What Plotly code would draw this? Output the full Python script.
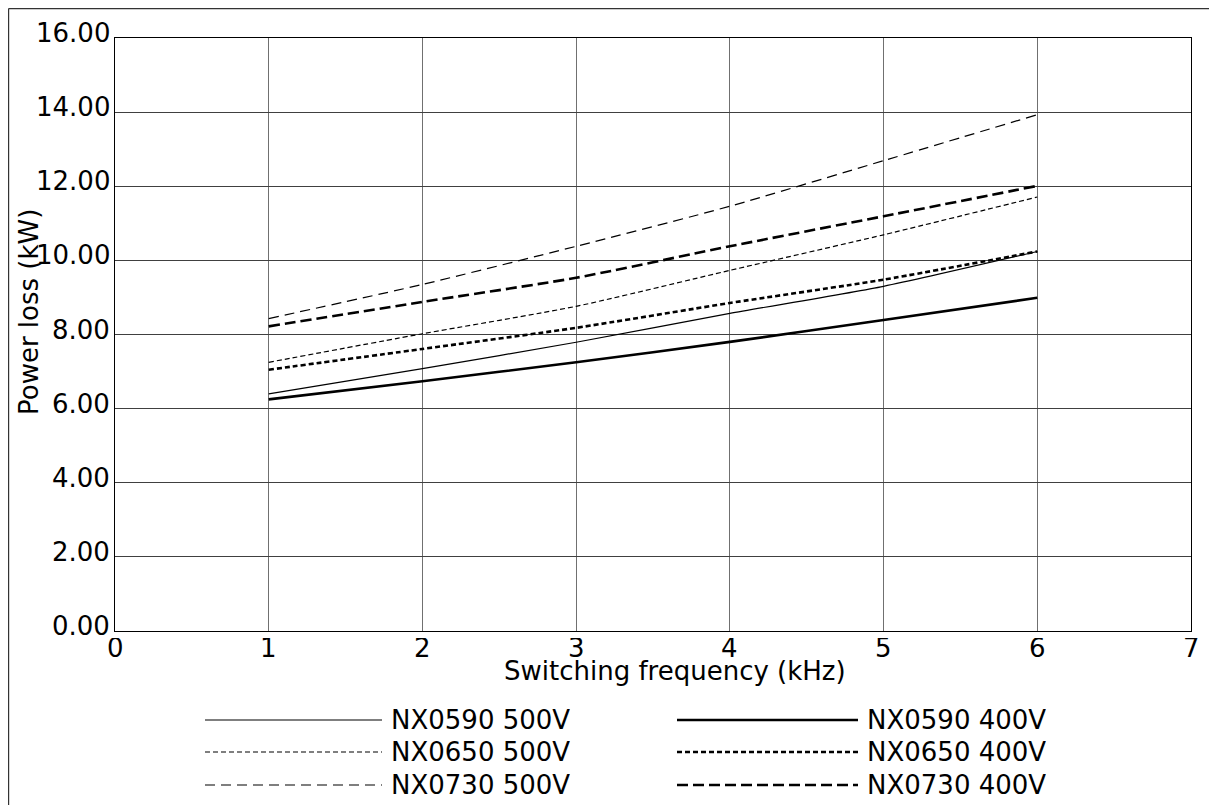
import plotly.graph_objects as go

# ---------------- data ----------------
freq_khz = [1, 2, 3, 4, 5, 6]

series_names = ["NX0590 500V", "NX0650 500V", "NX0730 500V",
                "NX0590 400V", "NX0650 400V", "NX0730 400V"]

nx0590_500 = [6.40, 7.08, 7.79, 8.57, 9.30, 10.24]
nx0650_500 = [7.25, 8.02, 8.76, 9.73, 10.69, 11.71]
nx0730_500 = [8.43, 9.35, 10.38, 11.46, 12.69, 13.93]
nx0590_400 = [6.25, 6.74, 7.25, 7.80, 8.39, 8.99]
nx0650_400 = [7.05, 7.61, 8.18, 8.85, 9.48, 10.24]
nx0730_400 = [8.22, 8.88, 9.53, 10.38, 11.19, 12.01]

series_values = [nx0590_500, nx0650_500, nx0730_500,
                 nx0590_400, nx0650_400, nx0730_400]

y_tick_vals = [0, 2, 4, 6, 8, 10, 12, 14, 16]
y_tick_text = ["0.00", "2.00", "4.00", "6.00", "8.00", "10.00", "12.00", "14.00", "16.00"]
x_tick_vals = [0, 1, 2, 3, 4, 5, 6, 7]
x_tick_text = ["0", "1", "2", "3", "4", "5", "6", "7"]

# ---------------- styles ----------------
styles = [
    dict(width=1.2, dash="solid"),
    dict(width=1.2, dash="5px,3px"),
    dict(width=1.2, dash="10px,6px"),
    dict(width=2.6, dash="solid"),
    dict(width=2.6, dash="5px,3px"),
    dict(width=2.6, dash="11px,5px"),
]

OFF = 8  # page body margin
W, H = 1209, 797
L, R, T, B = 107, 26, 30, 174
PW, PH = W - L - R, H - T - B
FONT = "DejaVu Sans"
FS = 26


def px2x(px):
    return (px - OFF - L) / PW


def py2y(py):
    return (H - B - (py - OFF)) / PH


fig = go.Figure()
for name, vals, st in zip(series_names, series_values, styles):
    fig.add_trace(go.Scatter(
        x=freq_khz, y=vals, mode="lines", name=name,
        line=dict(color="black", width=st["width"], dash=st["dash"], shape="spline", smoothing=0.6),
        showlegend=False, hoverinfo="x+y+name",
    ))

shapes = []
annotations = []
tfont = dict(family=FONT, size=FS, color="black")

# tick labels
for v, t in zip(y_tick_vals, y_tick_text):
    annotations.append(dict(text=t, xref="paper", yref="y", x=px2x(111), y=v,
                            xanchor="right", yanchor="middle", yshift=5,
                            height=26, valign="middle",
                            showarrow=False, font=tfont, borderpad=0))
for v, t in zip(x_tick_vals, x_tick_text):
    annotations.append(dict(text=t, xref="x", yref="paper", x=v, y=py2y(647.5),
                            xanchor="center", yanchor="middle",
                            height=20, valign="middle",
                            showarrow=False, font=tfont, borderpad=0))

# custom legend (long line samples like the reference)
legend_rows_py = [720, 752, 785]
cols = [(205, 382, 390), (677, 858, 866)]
for i, (name, st) in enumerate(zip(series_names, styles)):
    col = i // 3
    row = i % 3
    x0, x1, xt = cols[col]
    yy = py2y(legend_rows_py[row])
    shapes.append(dict(type="line", xref="paper", yref="paper",
                       x0=px2x(x0), x1=px2x(x1), y0=yy, y1=yy,
                       line=dict(color="black", width=st["width"], dash=st["dash"])))
    annotations.append(dict(text=name, xref="paper", yref="paper",
                            x=px2x(xt), y=yy, xanchor="left", yanchor="middle",
                            height=28, valign="middle", borderpad=0,
                            showarrow=False, font=tfont))

# axis titles
annotations.append(dict(text="Switching frequency (kHz)", xref="paper", yref="paper",
                        x=px2x(675), y=py2y(671), xanchor="center", yanchor="middle",
                        borderpad=0, showarrow=False, font=tfont))
annotations.append(dict(text="Power loss (kW)", xref="paper", yref="paper",
                        x=px2x(29), y=py2y(312), xanchor="center", yanchor="middle",
                        textangle=-90, showarrow=False, font=tfont))

# outer frame (top and left edges)
shapes.append(dict(type="line", xref="paper", yref="paper",
                   x0=px2x(8.6), x1=px2x(OFF + W), y0=py2y(8.6), y1=py2y(8.6),
                   line=dict(color="#333333", width=1.2)))
shapes.append(dict(type="line", xref="paper", yref="paper",
                   x0=px2x(8.6), x1=px2x(8.6), y0=py2y(8.6), y1=py2y(OFF + H),
                   line=dict(color="#333333", width=1.2)))

fig.update_layout(
    width=W, height=H,
    margin=dict(l=L, r=R, t=T, b=B, pad=0),
    paper_bgcolor="white", plot_bgcolor="white",
    font=dict(family=FONT, size=FS, color="black"),
    shapes=shapes, annotations=annotations,
    showlegend=False,
    xaxis=dict(range=[0, 7], tickvals=x_tick_vals, ticks="", showticklabels=False,
               showgrid=True, gridcolor="#707070", gridwidth=1.3, showline=True,
               linecolor="black", linewidth=1.2, mirror=True, zeroline=False),
    yaxis=dict(range=[0, 16], tickvals=y_tick_vals, ticks="", showticklabels=False,
               showgrid=True, gridcolor="#404040", gridwidth=1, showline=True,
               linecolor="black", linewidth=1.2, mirror=True, zeroline=False),
)

fig.write_html("out.html")
